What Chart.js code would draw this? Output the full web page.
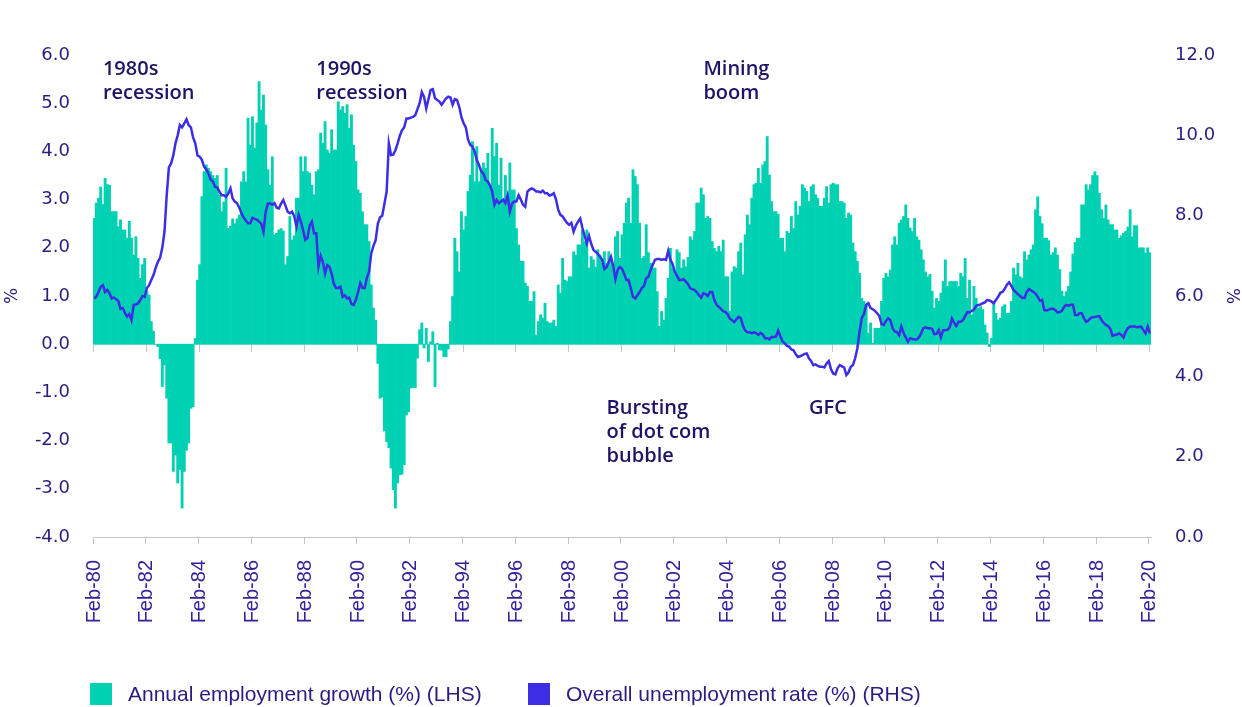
<!DOCTYPE html>
<html><head><meta charset="utf-8">
<script src="https://cdn.jsdelivr.net/npm/chart.js@4.4.1/dist/chart.umd.min.js"></script>
<style>html,body{margin:0;padding:0;background:#fff;}#wrap{width:1242px;height:707px;}</style>
</head><body><div id="wrap"><canvas id="c" width="1242" height="707"></canvas></div>
<script>
// Annual employment growth (%), monthly Feb-80 .. Feb-20 (one row per year, Feb..Jan)
const employmentGrowth = [
 2.61, 2.93, 3.03, 3.26, 2.9, 3.44, 3.31, 3.3, 2.75, 2.75, 2.75, 2.44,
 2.58, 2.37, 2.37, 2.2, 2.55, 2.2, 1.85, 2.23, 1.78, 1.37, 1.65, 1.78,
 1.1, 1.02, 0.47, 0.27, 0.0, -0.05, -0.3, -0.88, -0.43, -1.12, -2.05, -2.05,
 -2.64, -2.3, -2.88, -2.6, -3.4, -2.64, -2.2, -2.05, -1.33, -1.3, 0.12, 1.33,
 1.65, 3.06, 3.58, 3.72, 3.65, 3.58, 3.5, 3.44, 3.5, 3.1, 2.75, 2.95,
 3.65, 2.4, 2.45, 2.6, 2.5, 2.6, 2.68, 3.37, 3.58, 3.37, 4.69, 4.13,
 4.72, 4.07, 4.59, 5.45, 4.86, 5.17, 4.55, 3.62, 3.3, 3.89, 2.27, 2.3,
 2.37, 2.4, 2.35, 1.65, 1.82, 2.65, 2.16, 2.25, 3.03, 3.03, 3.89, 3.58,
 3.89, 3.58, 3.55, 3.3, 3.1, 3.58, 3.62, 4.38, 4.17, 4.62, 4.03, 3.96,
 4.45, 4.03, 4.03, 5.03, 4.86, 4.93, 4.79, 4.97, 4.48, 4.76, 4.13, 3.79,
 3.2, 3.13, 2.75, 2.48, 2.48, 2.13, 1.23, 0.75, 0.5, -0.4, -1.12, -1.1,
 -1.8, -2.02, -2.15, -2.57, -3.02, -3.4, -2.88, -2.71, -2.7, -2.5, -1.47, -1.4,
 -0.91, -0.9, -0.9, -0.29, 0.3, 0.44, -0.08, 0.33, -0.36, 0.05, 0.26, -0.88,
 0.02, -0.12, -0.12, -0.26, -0.26, -0.1, 0.47, 0.99, 2.2, 1.92, 1.5, 2.75,
 2.37, 2.65, 3.17, 3.51, 4.2, 3.37, 4.1, 3.37, 3.62, 3.76, 3.65, 3.96,
 3.3, 4.48, 3.9, 4.17, 3.3, 3.86, 2.96, 3.5, 2.96, 3.76, 3.2, 3.2,
 2.4, 2.06, 1.72, 1.72, 1.27, 1.2, 0.89, 0.89, 1.09, 0.19, 0.47, 0.61,
 0.54, 0.85, 0.47, 0.44, 0.44, 0.5, 0.37, 1.23, 1.06, 1.78, 1.33, 1.3,
 1.4, 1.4, 1.92, 1.85, 2.06, 2.06, 2.37, 2.13, 2.37, 1.58, 1.82, 1.75,
 1.6, 1.96, 1.85, 1.68, 1.92, 1.68, 1.92, 1.78, 1.58, 2.23, 2.34, 1.78,
 2.27, 2.51, 2.93, 3.03, 2.51, 3.62, 3.48, 3.31, 2.51, 1.78, 1.82, 2.48,
 1.9, 1.68, 1.58, 1.58, 1.09, 0.37, 0.68, 0.5, 0.95, 1.37, 1.99, 1.58,
 1.45, 1.96, 1.9, 1.58, 1.75, 1.61, 1.8, 2.23, 2.16, 2.34, 2.93, 2.93,
 3.24, 3.1, 2.61, 2.65, 2.61, 2.13, 1.99, 1.92, 2.03, 1.92, 2.16, 1.4,
 1.4, 0.68, 1.5, 1.61, 1.58, 1.92, 2.1, 1.44, 2.27, 2.68, 2.48, 3.03,
 3.31, 3.34, 3.65, 3.34, 3.72, 3.79, 4.31, 3.51, 2.96, 2.75, 2.75, 2.7,
 2.2, 2.2, 1.92, 2.34, 2.3, 2.65, 2.4, 2.96, 2.68, 2.86, 3.31, 3.24,
 3.17, 2.96, 3.27, 3.31, 3.1, 3.03, 2.86, 2.86, 3.03, 3.27, 2.93, 3.31,
 3.34, 3.31, 3.31, 2.96, 2.96, 2.93, 2.61, 2.72, 2.68, 2.1, 1.92, 1.72,
 1.47, 0.95, 0.89, 0.8, 0.23, 0.44, 0.02, 0.33, 0.33, 0.33, 0.89, 1.37,
 1.47, 1.4, 1.54, 2.06, 2.23, 2.06, 2.51, 2.58, 2.65, 2.89, 2.61, 2.41,
 2.34, 2.61, 2.23, 2.16, 1.96, 1.75, 1.5, 1.4, 1.45, 1.1, 0.75, 0.95,
 0.89, 1.06, 1.3, 1.75, 1.2, 1.3, 1.3, 1.3, 1.3, 1.2, 1.47, 1.4,
 1.78, 0.95, 1.33, 0.61, 1.2, 0.95, 0.75, 0.78, 0.72, 0.4, 0.23, -0.05,
 0.12, 0.89, 0.64, 0.5, 0.54, 0.78, 0.82, 0.64, 0.64, 0.89, 1.58, 1.44,
 1.68, 1.4, 1.37, 1.92, 1.75, 1.85, 1.96, 2.06, 2.79, 3.06, 2.65, 2.5,
 2.2, 2.2, 2.15, 1.85, 1.9, 2.0, 1.85, 1.55, 1.1, 0.99, 1.09, 1.2,
 1.5, 1.87, 2.11, 2.2, 2.2, 2.89, 2.89, 3.31, 3.2, 3.31, 3.5, 3.58,
 3.5, 3.13, 2.79, 2.61, 2.89, 2.58, 2.48, 2.48, 2.37, 2.37, 2.2, 2.25,
 2.3, 2.34, 2.43, 2.79, 2.23, 2.46, 2.46, 2.0, 2.0, 2.0, 1.89, 2.0,
 1.9
];

// Overall unemployment rate (%), monthly Feb-80 .. Feb-20
const unemploymentRate = [
 5.94, 5.98, 6.1, 6.23, 6.27, 6.1, 6.15, 6.07, 5.94, 5.96, 5.92, 5.88,
 5.68, 5.7, 5.58, 5.49, 5.55, 5.4, 5.78, 5.79, 5.82, 5.9, 6.0, 5.98,
 6.2, 6.27, 6.4, 6.52, 6.7, 6.85, 6.95, 7.2, 7.6, 8.5, 9.2, 9.3,
 9.5, 9.8, 10.0, 10.26, 10.2, 10.3, 10.4, 10.25, 10.2, 9.95, 9.8, 9.5,
 9.47, 9.39, 9.22, 9.15, 9.05, 8.9, 8.85, 8.72, 8.7, 8.6, 8.51, 8.51,
 8.47, 8.55, 8.68, 8.43, 8.35, 8.31, 8.2, 8.06, 7.95, 7.88, 7.81, 7.81,
 7.95, 7.92, 7.9, 7.85, 7.8, 7.6, 8.1, 8.3, 8.31, 8.27, 8.31, 8.2,
 8.18, 8.3, 8.39, 8.25, 8.1, 8.06, 8.1, 7.98, 7.73, 8.02, 7.85, 7.64,
 7.4, 7.45, 7.75, 7.85, 7.56, 7.56, 6.73, 7.0, 6.85, 6.56, 6.77, 6.73,
 6.55, 6.3, 6.2, 6.2, 6.23, 5.98, 6.02, 5.94, 5.96, 5.8, 5.78, 5.9,
 6.1, 6.32, 6.2, 6.2, 6.45, 6.6, 7.06, 7.25, 7.39, 7.8, 7.96, 8.0,
 8.3, 8.6, 9.8, 9.51, 9.52, 9.63, 9.8, 9.99, 10.13, 10.2, 10.42, 10.42,
 10.44, 10.46, 10.5, 10.65, 10.8, 11.08, 10.96, 10.67, 10.9, 11.13, 11.15, 10.92,
 10.88, 10.84, 10.76, 10.84, 10.92, 10.96, 10.94, 10.76, 10.9, 10.88, 10.71, 10.45,
 10.3, 10.2, 9.9, 9.76, 9.72, 9.6, 9.38, 9.26, 9.1, 9.05, 8.89, 8.85,
 8.75, 8.6, 8.27, 8.39, 8.31, 8.35, 8.4, 8.31, 8.51, 8.1, 8.3, 8.35,
 8.35, 8.51, 8.4, 8.27, 8.22, 8.6, 8.65, 8.68, 8.65, 8.6, 8.6, 8.58,
 8.62, 8.56, 8.56, 8.5, 8.52, 8.56, 8.4, 8.15, 8.02, 7.98, 7.9, 7.82,
 7.77, 7.82, 7.6, 7.75, 7.85, 7.93, 7.7, 7.5, 7.31, 7.5, 7.3, 7.15,
 7.1, 7.05, 6.98, 6.9, 6.67, 6.72, 6.85, 6.98, 6.75, 6.42, 6.65, 6.72,
 6.68, 6.55, 6.4, 6.4, 6.19, 5.98, 5.94, 6.02, 6.1, 6.2, 6.25, 6.44,
 6.48, 6.65, 6.78, 6.9, 6.92, 6.92, 6.9, 6.92, 6.9, 7.12, 6.9, 6.8,
 6.6, 6.5, 6.4, 6.4, 6.42, 6.36, 6.3, 6.19, 6.17, 6.15, 6.1, 6.02,
 5.96, 6.07, 6.05, 6.0, 6.1, 6.1, 5.9, 5.78, 5.73, 5.68, 5.62, 5.6,
 5.55, 5.44, 5.4, 5.35, 5.42, 5.48, 5.45, 5.26, 5.14, 5.1, 5.1, 5.07,
 5.1, 5.07, 5.03, 5.08, 5.04, 4.95, 4.95, 4.92, 4.98, 4.98, 4.99, 5.14,
 5.0, 4.87, 4.82, 4.76, 4.74, 4.67, 4.65, 4.55, 4.48, 4.5, 4.53, 4.56,
 4.57, 4.45, 4.38, 4.28, 4.3, 4.26, 4.24, 4.24, 4.22, 4.32, 4.38, 4.18,
 4.07, 4.05, 4.2, 4.28, 4.25, 4.22, 4.03, 4.1, 4.24, 4.28, 4.45, 4.7,
 5.11, 5.45, 5.55, 5.78, 5.82, 5.7, 5.67, 5.63, 5.57, 5.5, 5.3, 5.28,
 5.38, 5.44, 5.4, 5.2, 5.12, 5.1, 5.02, 5.24, 5.08, 4.97, 4.86, 4.95,
 4.93, 4.92, 4.92, 4.97, 5.07, 5.2, 5.22, 5.2, 5.2, 5.18, 5.05, 5.06,
 5.15, 4.97, 5.15, 5.15, 5.16, 5.22, 5.44, 5.33, 5.25, 5.36, 5.36, 5.4,
 5.5, 5.6, 5.59, 5.63, 5.66, 5.75, 5.78, 5.79, 5.82, 5.84, 5.9, 5.89,
 5.86, 5.82, 5.9, 5.98, 6.08, 6.1, 6.18, 6.28, 6.34, 6.25, 6.15, 6.1,
 6.04, 6.0, 5.95, 5.95, 6.1, 6.17, 6.14, 6.1, 6.06, 5.98, 5.88, 5.9,
 5.65, 5.64, 5.66, 5.68, 5.68, 5.65, 5.59, 5.6, 5.63, 5.73, 5.78, 5.76,
 5.78, 5.78, 5.53, 5.52, 5.57, 5.57, 5.45, 5.36, 5.39, 5.45, 5.47, 5.48,
 5.49, 5.5, 5.4, 5.33, 5.28, 5.25, 5.18, 5.01, 5.03, 5.04, 5.07, 5.03,
 4.97, 5.11, 5.2, 5.24, 5.24, 5.24, 5.22, 5.23, 5.24, 5.15, 5.07, 5.24,
 5.07
];

const monthNames = ['Jan','Feb','Mar','Apr','May','Jun','Jul','Aug','Sep','Oct','Nov','Dec'];
const startYear = 1980, startMonth = 1; // Feb-80
const categories = employmentGrowth.map((_, k) => {
  const m = (startMonth + k) % 12;
  const y = startYear + Math.floor((startMonth + k) / 12);
  return monthNames[m] + '-' + String(y % 100).padStart(2, '0');
});
const labelEvery = 24;

const seriesNames = ['Annual employment growth (%) (LHS)', 'Overall unemployment rate (%) (RHS)'];
const seriesColors = ['#00d1b2', '#3d2ee6'];

const annotationTexts = [['1980s','recession'], ['1990s','recession'], ['Mining','boom'], ['Bursting','of dot com','bubble'], ['GFC']];
const annotationAt = ['Jun-80', 'Jul-88', 'Mar-03', 'Jul-99', 'Mar-07'];
const annotationY = [5.7, 5.7, 5.7, -1.33, -1.33];

const TEXT = '#2a1c80';
const ANN = '#1d1466';

const decor = {
  id: 'decor',
  beforeDatasetsDraw(chart) {
    const {ctx, chartArea, scales} = chart;
    const xs = scales.x, y0 = scales.y.getPixelForValue(0);
    const half = (xs.getPixelForValue(1) - xs.getPixelForValue(0)) / 2;
    ctx.save();
    ctx.strokeStyle = '#ddd3d3';
    ctx.lineWidth = 1;
    ctx.beginPath(); ctx.moveTo(chartArea.left, y0 + 0.5); ctx.lineTo(chartArea.right, y0 + 0.5); ctx.stroke();
    ctx.strokeStyle = '#c4c4c4';
    for (let i = 0; i < categories.length; i += labelEvery) {
      const x = Math.round(xs.getPixelForValue(i) - half) + 0.5;
      ctx.beginPath(); ctx.moveTo(x, y0); ctx.lineTo(x, y0 + 8); ctx.stroke();
    }
    ctx.restore();
  },
  afterDraw(chart) {
    const {ctx, scales} = chart;
    ctx.save();
    ctx.fillStyle = ANN;
    ctx.font = '600 20px "Open Sans"';
    ctx.textAlign = 'left'; ctx.textBaseline = 'middle';
    annotationTexts.forEach((lines, k) => {
      const x = scales.x.getPixelForValue(categories.indexOf(annotationAt[k]));
      const y = scales.y.getPixelForValue(annotationY[k]);
      lines.forEach((t, j) => ctx.fillText(t, x, y + j * 24));
    });
    ctx.font = '21px "Liberation Sans"';
    const lx = [90, 528];
    seriesNames.forEach((name, k) => {
      ctx.fillStyle = seriesColors[k];
      ctx.fillRect(lx[k], 683, 22, 22);
      ctx.fillStyle = TEXT;
      ctx.fillText(name, lx[k] + 38, 695);
    });
    ctx.restore();
  }
};

new Chart(document.getElementById('c'), {
  data: {
    labels: categories,
    datasets: [
      { type: 'line', label: seriesNames[1], data: unemploymentRate, yAxisID: 'y1',
        borderColor: seriesColors[1], borderWidth: 2.5, pointRadius: 0, tension: 0, order: 0 },
      { type: 'bar', label: seriesNames[0], data: employmentGrowth, yAxisID: 'y',
        backgroundColor: seriesColors[0], borderWidth: 0, barPercentage: 1, categoryPercentage: 1, order: 1 }
    ]
  },
  options: {
    responsive: false, animation: false, devicePixelRatio: 1,
    layout: { padding: { top: 55, left: 0, right: 0, bottom: 0 } },
    plugins: { legend: { display: false }, tooltip: { enabled: false } },
    scales: {
      x: {
        type: 'category', offset: true,
        grid: { display: true, offset: true, drawOnChartArea: false, drawTicks: true, tickLength: 7,
          color: c => (c.index % labelEvery === 0 ? '#c4c4c4' : 'rgba(0,0,0,0)'),
          tickColor: c => (c.index % labelEvery === 0 ? '#c4c4c4' : 'rgba(0,0,0,0)') },
        border: { display: true, color: '#c4c4c4' },
        ticks: { autoSkip: false, maxRotation: 90, minRotation: 90, padding: 16, color: '#33239a',
          font: { family: 'Liberation Sans', size: 20 },
          callback: (v, i) => (i % labelEvery === 0 ? categories[i] : '') },
        afterFit: s => { s.height = 170; }
      },
      y: {
        position: 'left', min: -4, max: 6,
        grid: { display: false }, border: { display: false },
        ticks: { stepSize: 1, padding: 15, color: TEXT, font: { family: 'DejaVu Sans', size: 18 },
          callback: v => Number(v).toFixed(1) },
        title: { display: true, text: '%', color: TEXT, font: { family: 'DejaVu Sans', size: 17 }, padding: 2 },
        afterFit: s => { s.width = 93; }
      },
      y1: {
        position: 'right', min: 0, max: 12,
        grid: { display: false }, border: { display: false },
        ticks: { stepSize: 2, padding: 16, color: TEXT, font: { family: 'DejaVu Sans', size: 18 },
          callback: v => Number(v).toFixed(1) },
        title: { display: true, text: '%', color: TEXT, font: { family: 'DejaVu Sans', size: 17 }, padding: 0 },
        afterFit: s => { s.width = 91; }
      }
    }
  },
  plugins: [decor]
});
</script>
</body></html>
